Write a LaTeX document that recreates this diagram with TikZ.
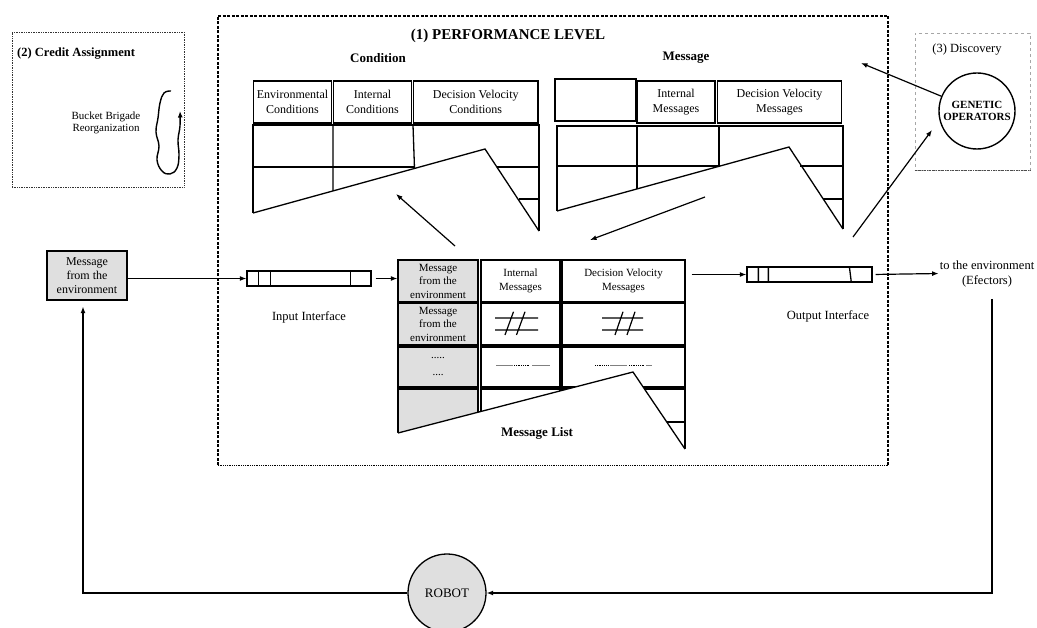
\documentclass[tikz,border=0pt]{standalone}
\usepackage{fontspec}
\setmainfont{Liberation Serif}
\usepackage{tikz}
\usetikzlibrary{arrows.meta, positioning, shapes.geometric}
\tikzset{
  cell/.style={rectangle, draw, line width=1.3pt, inner sep=0pt, align=center,
    font=\fontsize{12}{14.5}\selectfont},
  listcell/.style={cell, font=\fontsize{11}{13.5}\selectfont},
  graycell/.style={listcell, fill=gray!25},
  tape/.style={rectangle, draw, line width=1.3pt, inner sep=0pt},
  conn/.style={-{Latex[length=6.5pt, width=5pt]}, line width=1.2pt},
  lbl/.style={font=\fontsize{12.5}{15}\selectfont, align=center, inner sep=0pt},
  ttl/.style={font=\fontsize{13}{15}\selectfont\bfseries, inner sep=0pt},
  edge/.style={line width=1.3pt}
}

\begin{document}
\begin{tikzpicture}[x=1pt, y=-1pt]
  \useasboundingbox (0,0) rectangle (1037,628);

  % performance level frame
  \node[minimum width=670, minimum height=449, inner sep=0pt] (perf) at (553,240.5) {};
  \draw[line width=1.6pt, dash pattern=on 3pt off 1.5pt]
    (perf.south west) -- (perf.north west) -- (perf.north east) -- (perf.south east);
  \draw[line width=0.8pt, densely dotted] (perf.south west) -- (perf.south east);
  \node[ttl, font=\fontsize{15}{17}\selectfont\bfseries] (perftit) at (508,36) {(1) PERFORMANCE LEVEL};

  % credit assignment
  \node[draw=black!80, densely dotted, line width=0.7pt, minimum width=172,
    minimum height=155, inner sep=0pt] (credit) at (98,109.5) {};
  \node[ttl, anchor=west, font=\fontsize{12.5}{15}\selectfont\bfseries] (credtit) at (17,54) {(2) Credit Assignment};
  \node[lbl, font=\fontsize{11}{12.5}\selectfont] (bucket) at (106,123) {Bucket Brigade\\Reorganization};
  \draw[conn, line width=1.4pt] plot[smooth, tension=0.7] coordinates {(171,91) (164,93) (160,103)
    (158,118) (156,132) (159,146) (157,160) (162,171) (170,174) (177,168) (179,155)
    (178,140) (180,126) (180,111)};

  % discovery
  \node[draw=gray!70, dashed, line width=0.6pt, minimum width=115, minimum height=137,
    inner sep=0pt] (disc) at (972.5,101.5) {};
  \draw[black!70, line width=0.9pt, dash pattern=on 2pt off 1pt on 0.6pt off 1pt]
    (disc.south west) -- (disc.south east);
  \node[lbl] (disctit) at (967,50) {(3) Discovery};
  \node[circle, draw, line width=1.4pt, minimum size=76, inner sep=0pt, align=center,
    font=\fontsize{11}{12.5}\selectfont\bfseries] (genop) at (977,111) {GENETIC\\OPERATORS};
  \coordinate (gtip) at (861,63);
  \coordinate (gfrom) at (853,237);
  \coordinate (gto) at (932,130);
  \draw[conn] (genop) -- (gtip);
  \draw[conn] (gfrom) -- (gto);

  % condition table
  \node[ttl] (condtit) at (378,58) {Condition};
  \node[cell, minimum width=78.5, minimum height=42] (c1) at (292.5,102) {Environmental\\Conditions};
  \node[cell, minimum width=78, minimum height=42] (c2) at (372.5,102) {Internal\\Conditions};
  \node[cell, minimum width=124.5, minimum height=42] (c3) at (475.75,102) {Decision Velocity\\Conditions};
  \draw[edge] (253,213) -- (253,125) -- (539,125) -- (539,231);
  \draw[edge] (253,167) -- (414,167) (497,167) -- (539,167) (519,199) -- (539,199);
  \draw[edge] (333,125) -- (333,191) (413,125) -- (414.5,168.5);
  \draw[edge] (253,213) -- (485,149) -- (539,231);

  % message table
  \node[ttl] (msgtit) at (686,58) {Message};
  \node[cell, minimum width=81, minimum height=42] (m0) at (595.5,100) {};
  \node[cell, minimum width=78, minimum height=42] (m1) at (676,102) {Internal\\Messages};
  \node[cell, minimum width=124, minimum height=42] (m2) at (779.5,102) {Decision Velocity\\Messages};
  \draw[edge] (557,211) -- (557,126) -- (843,126) -- (843,229);
  \draw[edge] (557,166) -- (719,166) (800,166) -- (843,166) (823,199) -- (843,199);
  \draw[edge] (637,126) -- (637,189) (719,126) -- (719,166);
  \draw[edge] (557,211) -- (789,147) -- (843,229);

  % message list
  \node[graycell, minimum width=80, minimum height=42] (l1) at (438,281) {Message\\from the\\environment};
  \node[graycell, minimum width=80, minimum height=41.5] (l2) at (438,324.25) {Message\\from the\\environment};
  \node[graycell, minimum width=80, minimum height=40, font=\fontsize{11}{17}\selectfont] (l3) at (438,367) {.....\\....};
  \node[graycell, minimum width=80, minimum height=64] (l4) at (438,421) {};
  \node[listcell, minimum width=79, minimum height=42] (i1) at (520.5,281) {Internal\\Messages};
  \node[listcell, minimum width=79, minimum height=41.5] (i2) at (520.5,324.25) {};
  \node[listcell, minimum width=79, minimum height=40] (i3) at (520.5,367) {};
  \node[listcell, minimum width=79, minimum height=64] (i4) at (520.5,421) {};
  \node[listcell, minimum width=123, minimum height=42] (d1) at (623.5,281) {Decision Velocity\\Messages};
  \node[listcell, minimum width=123, minimum height=41.5] (d2) at (623.5,324.25) {};
  \node[listcell, minimum width=123, minimum height=40] (d3) at (623.5,367) {};
  \node[listcell, minimum width=123, minimum height=64] (d4) at (623.5,421) {};
  \draw[line width=1.2pt, shift={(i2.center)}] (-25.5,-6.25) -- (17.5,-6.25) (-25.5,5.75) -- (17.5,5.75)
    (-7,-12.5) -- (-15.5,10.7) (4.5,-12.5) -- (-4,10.7);
  \draw[line width=1.2pt, shift={(d2.center)}] (-21.5,-6.25) -- (19.5,-6.25) (-21.5,5.75) -- (19.5,5.75)
    (-0.5,-12.5) -- (-8.5,10.7) (11.5,-12.5) -- (3.5,10.7);
  \draw[gray, line width=0.6pt] (496,365) -- (513,365) (532,365) -- (550,365) (610,365) -- (627,365) (646,365) -- (652,365);
  \draw[densely dotted, line width=0.8pt] (514,365) -- (530,365) (595,365) -- (608,365) (629,365) -- (645,365);
  \fill[white] (393,433) -- (398,433) -- (633,372) -- (685,449) -- (690,449) -- (690,460) -- (393,460) -- cycle;
  \draw[edge] (398,433) -- (633,372) -- (685,449);
  \draw[edge] (667,422) -- (685,422);
  \node[ttl] (listtit) at (537,433) {Message List};

  % interfaces
  \node[graycell, font=\fontsize{12}{14}\selectfont, minimum width=80, minimum height=49] (env) at (87,275.5) {Message\\from the\\environment};
  \node[tape, minimum width=124, minimum height=15] (ii) at (309,278.5) {};
  \draw[edge] ([xshift=12]ii.north west) -- ([xshift=12]ii.south west)
    ([xshift=24]ii.north west) -- ([xshift=24]ii.south west)
    ([xshift=104]ii.north west) -- ([xshift=104]ii.south west);
  \node[lbl, below=25pt of ii] (iilbl) {Input Interface};
  \node[tape, minimum width=125, minimum height=15] (oi) at (809.5,274.5) {};
  \draw[edge] ([xshift=12]oi.north west) -- ([xshift=12]oi.south west)
    ([xshift=22]oi.north west) -- ([xshift=22]oi.south west)
    ([xshift=103]oi.north west) -- ([xshift=105]oi.south west);
  \node[lbl] (oilbl) at (828,316) {Output Interface};
  \node[lbl] (efe) at (987,273.5) {to the environment\\(Efectors)};

  \draw[conn] (env.east |- ii.west) -- (ii.west);
  \draw[conn, shorten <=4pt] (ii.east) -- (ii.east -| l1.west);
  \draw[conn, shorten <=6pt] (oi.west -| d1.east) -- (oi.west);
  \draw[conn, shorten <=3pt, shorten >=1pt] (oi.east) -- (efe.west);

  \coordinate (p1) at (455,246);
  \coordinate (p2) at (396,194);
  \draw[conn] (p1) -- (p2);
  \coordinate (q1) at (705,197);
  \coordinate (q2) at (590,240);
  \draw[conn] (q1) -- (q2);

  % robot loop
  \node[circle, draw, fill=gray!25, line width=1.3pt, minimum size=78, inner sep=0pt,
    font=\fontsize{13}{15}\selectfont] (robot) at (447,593) {ROBOT};
  \coordinate (rc) at (992,593);
  \coordinate (lc) at (83,593);
  \draw[conn, shorten <=12pt] (efe.south -| rc) -- (rc) -- (robot);
  \draw[conn, shorten >=6pt] (robot) -- (lc) -- (lc |- env.south);
\end{tikzpicture}
\end{document}
